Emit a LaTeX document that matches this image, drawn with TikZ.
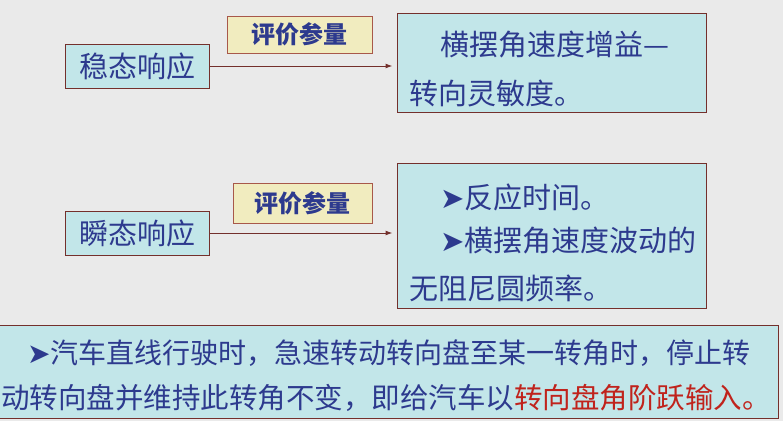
\documentclass[tikz,border=0pt]{standalone}
\usepackage{fontspec}
\usepackage{tikz}
\usetikzlibrary{arrows.meta,positioning,calc}
\newfontfamily\cjk{Noto Sans CJK SC}
\newfontfamily\dingfont{DejaVu Sans}
\definecolor{slidebg}{HTML}{EAEAEA}
\definecolor{boxcyan}{HTML}{C2E6E9}
\definecolor{tagyellow}{HTML}{F1ECBF}
\definecolor{framered}{HTML}{74302C}
\definecolor{tagframe}{HTML}{A8584A}
\definecolor{inkblue}{HTML}{2D3A8E}
\definecolor{hotred}{HTML}{C0231C}
\newcommand{\pointer}{{\dingfont\char"27A4}}

\begin{document}
\begin{tikzpicture}[
  x=1pt, y=-1pt,
  resp/.style={draw=framered, fill=boxcyan, line width=1pt, minimum width=144pt, minimum height=44pt, inner sep=0pt,
    font=\cjk\fontsize{29}{32}\selectfont, text=inkblue},
  tagbox/.style={draw=tagframe, fill=tagyellow, line width=1pt, inner sep=0pt,
    font=\cjk\bfseries\fontsize{24}{28}\selectfont, text=inkblue},
  result/.style={draw=framered, fill=boxcyan, line width=1pt, inner sep=0pt},
  txt/.style={anchor=west, inner sep=0pt, font=\cjk\fontsize{29}{32}\selectfont, text=inkblue},
  link/.style={-{Latex[length=7pt,width=5pt]}, line width=1pt, framered, shorten >=4pt}]
  \useasboundingbox[fill=slidebg] (0,0) rectangle (783,421);
  % steady state
  \node[resp] (steady) at (137,66) {稳态响应};
  \node[tagbox, minimum width=145pt, minimum height=37pt] (tagone) at (299.5,34.5) {评价参量};
  \node[result, minimum width=309pt, minimum height=99pt] (resone) at (551.5,62.5) {};
  \node[txt] (gainA) at (440,45) {横摆角速度增益—};
  \node[txt] (gainB) at (409,93) {转向灵敏度。};
  \draw[link] (steady.east) -- (steady.east -| resone.west);
  % transient
  \node[resp] (trans) at (137,233) {瞬态响应};
  \node[tagbox, minimum width=139pt, minimum height=40pt] (tagtwo) at (302.5,203) {评价参量};
  \node[result, minimum width=309pt, minimum height=145pt] (restwo) at (551.5,235.5) {};
  \node[txt] (timeA) at (440,197) {\pointer 反应时间。};
  \node[txt] (freqA) at (440,241) {\pointer 横摆角速度波动的};
  \node[txt] (freqB) at (409,288) {无阻尼圆频率。};
  \draw[link] (trans.east) -- (trans.east -| restwo.west);
  % step input note
  \node[result, minimum width=800pt, minimum height=93pt] (note) at (378,371.5) {};
  \node[txt, font=\cjk\fontsize{28}{32}\selectfont] (noteA) at (27,353) {\pointer 汽车直线行驶时，急速转动转向盘至某一转角时，停止转};
  \node[txt, font=\cjk\fontsize{28.5}{32}\selectfont] (noteB) at (1,398) {动转向盘并维持此转角不变，即给汽车以\textcolor{hotred}{转向盘角阶跃输入。}};
\end{tikzpicture}
\end{document}
